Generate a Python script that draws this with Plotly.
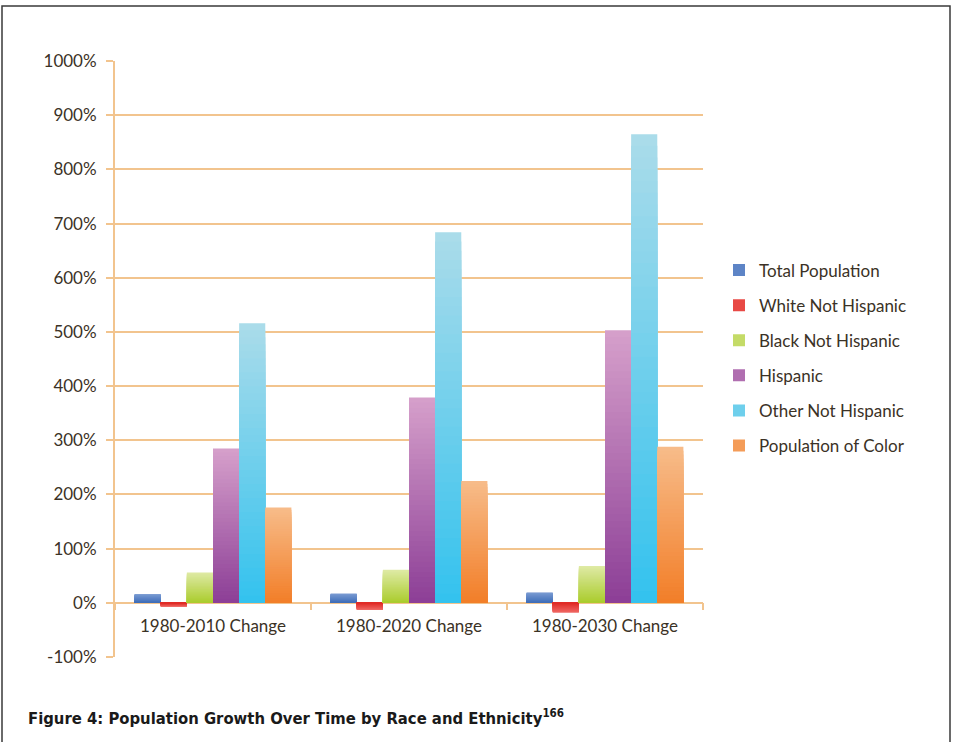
import plotly.graph_objects as go

# Percent change in population since 1980, by group
periods = ["1980-2010 Change", "1980-2020 Change", "1980-2030 Change"]
total_population = [16, 17, 19]
white_not_hispanic = [-7, -13, -18]
black_not_hispanic = [56, 61, 68]
hispanic = [285, 379, 503]
other_not_hispanic = [516, 684, 865]
population_of_color = [176, 225, 288]

# name, values, colour at the tip of the bar, colour at the base of the bar
series = [
    ("Total Population", total_population, "#7C9DD4", "#3F6DB8"),
    ("White Not Hispanic", white_not_hispanic, "#F06A66", "#E02A25"),
    ("Black Not Hispanic", black_not_hispanic, "#DFEAA6", "#AACC2C"),
    ("Hispanic", hispanic, "#D6A0CB", "#8C3E96"),
    ("Other Not Hispanic", other_not_hispanic, "#ABDCEA", "#33C2EE"),
    ("Population of Color", population_of_color, "#F7BC8A", "#F27E28"),
]

y_ticks = list(range(-100, 1001, 100))
y_labels = [f"{v}%" for v in y_ticks]

grid = "#F2C48E"
text_col = "#3B3226"

def hex_rgb(h):
    h = h.lstrip("#")
    return [int(h[i:i + 2], 16) for i in (0, 2, 4)]

def mix(c0, c1, t):
    a, b = hex_rgb(c0), hex_rgb(c1)
    r = [round(a[i] + (b[i] - a[i]) * t) for i in range(3)]
    return f"rgb({r[0]},{r[1]},{r[2]})"

# Each bar is shaded from base to tip by overlaying progressively shorter
# copies of it in the same slot, each a little closer to the base colour.
N_LAYERS = 40
fig = go.Figure()
for si, (name, vals, tip, base_col) in enumerate(series):
    for k in range(N_LAYERS):
        share = (N_LAYERS - k) / N_LAYERS
        col = mix(base_col, tip, share - 0.5 / N_LAYERS)
        fig.add_trace(go.Bar(
            name=name, x=periods,
            y=[v * share for v in vals],
            offsetgroup=str(si),
            marker=dict(color=col, line=dict(width=0)),
            legendgroup=name,
            showlegend=(k == N_LAYERS // 2),
            hoverinfo="skip",
        ))

# Plot-area geometry in pixels, used to place paper-referenced items
L, T, W, H = 115, 61, 588, 596
def px_x(p):
    return (p - L) / W
def px_y(p):
    return (T + H - p) / H

# Outer frame around the figure and caption
fig.add_shape(type="rect", xref="paper", yref="paper",
              x0=px_x(2), x1=px_x(950), y0=px_y(760), y1=px_y(6),
              line=dict(color="#3A3A3A", width=1.5), fillcolor="rgba(0,0,0,0)",
              layer="below")

fig.add_annotation(
    xref="paper", yref="paper", x=px_x(26), y=px_y(717),
    xanchor="left", yanchor="middle", showarrow=False,
    text="<b>Figure 4: Population Growth Over Time by Race and Ethnicity<sup>166</sup></b>",
    font=dict(family="DejaVu Sans Condensed, Liberation Sans Narrow, sans-serif",
              size=16.5, color="#1A1A1A"),
)

fig.update_layout(
    width=953, height=742,
    margin=dict(l=L, r=953 - L - W, t=T, b=742 - T - H),
    paper_bgcolor="white", plot_bgcolor="white",
    barmode="group", bargap=0.2, bargroupgap=0,
    font=dict(family="Lato, Open Sans, sans-serif", size=17, color=text_col),
    showlegend=True,
    legend=dict(
        x=px_x(719), y=px_y(358), xanchor="left", yanchor="middle",
        font=dict(size=17, color=text_col),
        traceorder="grouped", tracegroupgap=10,
        itemwidth=30, bgcolor="rgba(0,0,0,0)",
    ),
    xaxis=dict(
        type="category", range=[-0.5, 2.5],
        showline=False, showgrid=False, zeroline=False,
        ticks="outside", tickson="boundaries", ticklen=7, tickcolor=grid, tickwidth=2,
        ticklabelstandoff=12,
        tickfont=dict(size=17, color=text_col),
        anchor="free", position=px_y(602),
    ),
    yaxis=dict(
        range=[-100, 1000], tickmode="array", tickvals=y_ticks, ticktext=y_labels,
        showgrid=True, gridcolor=grid, gridwidth=2,
        zeroline=True, zerolinecolor=grid, zerolinewidth=2,
        showline=True, linecolor=grid, linewidth=2,
        ticks="outside", ticklen=7, tickcolor=grid, tickwidth=2,
        ticklabelstandoff=6,
        tickfont=dict(size=17, color=text_col),
    ),
)

fig.write_html("out.html")
